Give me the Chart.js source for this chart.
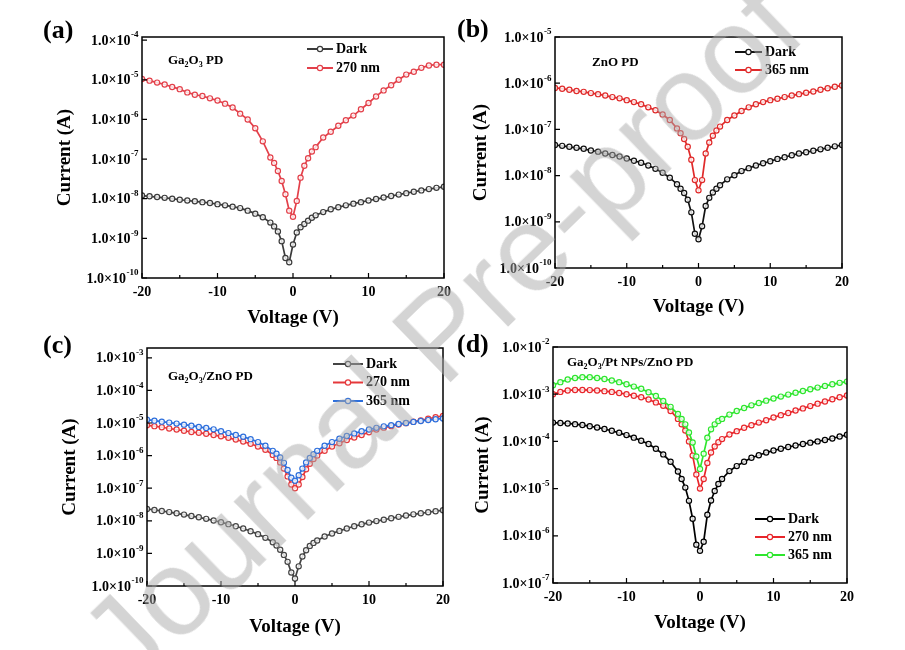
<!DOCTYPE html>
<html>
<head>
<meta charset="utf-8">
<script src="https://cdn.jsdelivr.net/npm/chart.js@4.4.0/dist/chart.umd.min.js"></script>
<style>
  body { margin: 0; background: #fff; width: 905px; height: 650px; overflow: hidden; position: relative; }
  canvas { position: absolute; }
  #wm {
    position: absolute; left: 441px; top: 333px;
    transform: translate(-50%, -50%) rotate(-44deg);
    font: 122px "Liberation Sans", Arial, sans-serif;
    color: rgba(170, 170, 170, 0.5);
    white-space: nowrap; pointer-events: none;
  }
</style>
</head>
<body>
<canvas id="chartA" width="430" height="330" style="left:30px;top:0px"></canvas>
<canvas id="chartB" width="450" height="330" style="left:455px;top:0px"></canvas>
<canvas id="chartC" width="430" height="320" style="left:30px;top:330px"></canvas>
<canvas id="chartD" width="450" height="320" style="left:455px;top:330px"></canvas>
<div id="wm">Journal Pre-proof</div>
<script>
// bias voltage (V), shared by all four panels
var voltage = [-20, -19, -18, -17, -16, -15, -14, -13, -12, -11, -10, -9, -8, -7, -6, -5, -4,
  -3, -2.5, -2, -1.5, -1, -0.5, 0, 0.5, 1, 1.5, 2, 2.5, 3,
  4, 5, 6, 7, 8, 9, 10, 11, 12, 13, 14, 15, 16, 17, 18, 19, 20];

// (a) Ga2O3 PD
var darkA = [1.2e-8, 1.15e-8, 1.1e-8, 1.05e-8, 1.0e-8, 9.4e-9, 9.0e-9, 8.6e-9, 8.2e-9, 7.8e-9, 7.3e-9, 6.8e-9, 6.3e-9, 5.8e-9, 5.0e-9, 4.2e-9, 3.4e-9,
  2.5e-9, 2.0e-9, 1.5e-9, 8.5e-10, 3.2e-10, 2.5e-10, 7e-10, 1.4e-9, 1.9e-9, 2.3e-9, 2.8e-9, 3.3e-9, 3.8e-9,
  4.6e-9, 5.4e-9, 6.1e-9, 6.8e-9, 7.5e-9, 8.2e-9, 9.0e-9, 9.8e-9, 1.07e-8, 1.17e-8, 1.27e-8, 1.38e-8, 1.5e-8, 1.62e-8, 1.75e-8, 1.88e-8, 2.0e-8];
var uv270A = [1.05e-5, 9.5e-6, 8.5e-6, 7.6e-6, 6.6e-6, 5.8e-6, 4.8e-6, 4.2e-6, 3.9e-6, 3.4e-6, 3.0e-6, 2.5e-6, 2.0e-6, 1.4e-6, 1.0e-6, 6.0e-7, 2.8e-7,
  1.1e-7, 8e-8, 5e-8, 2.8e-8, 1.3e-8, 5e-9, 3.5e-9, 8.8e-9, 3.4e-8, 6.8e-8, 1.05e-7, 1.55e-7, 2.0e-7,
  3.5e-7, 4.9e-7, 6.9e-7, 9.5e-7, 1.25e-6, 1.8e-6, 2.6e-6, 3.8e-6, 5.4e-6, 7.3e-6, 1.0e-5, 1.35e-5, 1.6e-5, 2.0e-5, 2.3e-5, 2.4e-5, 2.4e-5];

// (b) ZnO PD
var darkB = [4.6e-8, 4.4e-8, 4.2e-8, 4.0e-8, 3.8e-8, 3.5e-8, 3.3e-8, 3.0e-8, 2.8e-8, 2.6e-8, 2.35e-8, 2.1e-8, 1.9e-8, 1.65e-8, 1.4e-8, 1.15e-8, 9e-9,
  6.5e-9, 5.2e-9, 4.2e-9, 3.0e-9, 1.6e-9, 5.5e-10, 4.2e-10, 8e-10, 2.2e-9, 3.3e-9, 4.3e-9, 5.2e-9, 6.2e-9,
  8.3e-9, 1.02e-8, 1.25e-8, 1.45e-8, 1.65e-8, 1.85e-8, 2.05e-8, 2.3e-8, 2.5e-8, 2.75e-8, 3.0e-8, 3.2e-8, 3.45e-8, 3.7e-8, 4.0e-8, 4.3e-8, 4.6e-8];
var uv365B = [7.9e-7, 7.6e-7, 7.2e-7, 6.8e-7, 6.5e-7, 6.1e-7, 5.8e-7, 5.4e-7, 5.0e-7, 4.7e-7, 4.3e-7, 3.9e-7, 3.5e-7, 3.0e-7, 2.6e-7, 2.1e-7, 1.6e-7,
  1.05e-7, 8.3e-8, 6.2e-8, 4.2e-8, 2.2e-8, 8e-9, 4.8e-9, 8e-9, 3.0e-8, 5.2e-8, 7.3e-8, 9.5e-8, 1.15e-7,
  1.6e-7, 2.0e-7, 2.5e-7, 3.0e-7, 3.5e-7, 3.9e-7, 4.3e-7, 4.6e-7, 5.0e-7, 5.4e-7, 5.8e-7, 6.2e-7, 6.6e-7, 7.2e-7, 7.8e-7, 8.4e-7, 8.9e-7];

// (c) Ga2O3/ZnO PD
var darkC = [2.3e-8, 2.15e-8, 2.0e-8, 1.85e-8, 1.7e-8, 1.55e-8, 1.4e-8, 1.28e-8, 1.15e-8, 1.02e-8, 9e-9, 7.9e-9, 6.8e-9, 5.8e-9, 4.8e-9, 3.9e-9, 3.0e-9,
  2.2e-9, 1.75e-9, 1.3e-9, 9e-10, 5.5e-10, 2.6e-10, 1.7e-10, 4e-10, 8e-10, 1.25e-9, 1.7e-9, 2.1e-9, 2.5e-9,
  3.3e-9, 4.1e-9, 4.9e-9, 5.8e-9, 6.8e-9, 7.8e-9, 8.8e-9, 9.8e-9, 1.08e-8, 1.2e-8, 1.32e-8, 1.45e-8, 1.58e-8, 1.7e-8, 1.83e-8, 1.97e-8, 2.1e-8];
var uv270C = [8.5e-6, 8.0e-6, 7.4e-6, 6.8e-6, 6.3e-6, 5.8e-6, 5.3e-6, 5.0e-6, 4.7e-6, 4.3e-6, 3.9e-6, 3.5e-6, 3.1e-6, 2.7e-6, 2.3e-6, 1.9e-6, 1.5e-6,
  1.05e-6, 8.5e-7, 6.2e-7, 4e-7, 2.3e-7, 1.3e-7, 1.0e-7, 1.3e-7, 2.2e-7, 3.8e-7, 5.6e-7, 7.8e-7, 1.0e-6,
  1.4e-6, 1.9e-6, 2.4e-6, 3.0e-6, 3.6e-6, 4.3e-6, 5.2e-6, 6.3e-6, 7.2e-6, 8.0e-6, 9.0e-6, 9.9e-6, 1.1e-5, 1.2e-5, 1.35e-5, 1.5e-5, 1.65e-5];
var uv365C = [1.27e-5, 1.18e-5, 1.1e-5, 1.03e-5, 9.6e-6, 8.9e-6, 8.3e-6, 7.6e-6, 7.0e-6, 6.4e-6, 5.6e-6, 4.9e-6, 4.3e-6, 3.8e-6, 3.2e-6, 2.6e-6, 2.0e-6,
  1.4e-6, 1.15e-6, 8.8e-7, 6e-7, 3.6e-7, 2.1e-7, 1.7e-7, 2.5e-7, 4.0e-7, 6.2e-7, 8.5e-7, 1.1e-6, 1.4e-6,
  2.0e-6, 2.6e-6, 3.3e-6, 4.0e-6, 4.8e-6, 5.6e-6, 6.3e-6, 7.1e-6, 7.9e-6, 8.6e-6, 9.3e-6, 1.0e-5, 1.08e-5, 1.15e-5, 1.23e-5, 1.3e-5, 1.38e-5];

// (d) Ga2O3/Pt NPs/ZnO PD
var darkD = [2.5e-4, 2.45e-4, 2.4e-4, 2.32e-4, 2.22e-4, 2.1e-4, 1.97e-4, 1.83e-4, 1.68e-4, 1.52e-4, 1.36e-4, 1.2e-4, 1.03e-4, 8.8e-5, 7.0e-5, 5.3e-5, 3.7e-5,
  2.3e-5, 1.6e-5, 1.05e-5, 5.5e-6, 2.3e-6, 6.5e-7, 4.8e-7, 7.5e-7, 2.8e-6, 5.6e-6, 8.9e-6, 1.25e-5, 1.6e-5,
  2.35e-5, 3.0e-5, 3.7e-5, 4.5e-5, 5.1e-5, 5.8e-5, 6.4e-5, 7.0e-5, 7.6e-5, 8.2e-5, 8.8e-5, 9.4e-5, 1.0e-4, 1.07e-4, 1.15e-4, 1.27e-4, 1.38e-4];
var uv270D = [1.0e-3, 1.12e-3, 1.2e-3, 1.23e-3, 1.23e-3, 1.22e-3, 1.2e-3, 1.16e-3, 1.12e-3, 1.06e-3, 1.0e-3, 9.3e-4, 8.6e-4, 7.7e-4, 6.7e-4, 5.7e-4, 4.4e-4,
  3.0e-4, 2.3e-4, 1.7e-4, 1.0e-4, 5e-5, 2e-5, 1.0e-5, 1.6e-5, 3.5e-5, 5.8e-5, 7.8e-5, 9.6e-5, 1.12e-4,
  1.4e-4, 1.65e-4, 1.95e-4, 2.2e-4, 2.5e-4, 2.8e-4, 3.2e-4, 3.6e-4, 4.0e-4, 4.5e-4, 5.0e-4, 5.6e-4, 6.3e-4, 7.0e-4, 7.8e-4, 8.6e-4, 9.4e-4];
var uv365D = [1.55e-3, 1.8e-3, 2.05e-3, 2.2e-3, 2.3e-3, 2.3e-3, 2.2e-3, 2.1e-3, 1.95e-3, 1.8e-3, 1.62e-3, 1.45e-3, 1.3e-3, 1.1e-3, 9.2e-4, 7.2e-4, 5.4e-4,
  3.8e-4, 3.0e-4, 2.3e-4, 1.55e-4, 9.5e-5, 4.8e-5, 2.6e-5, 5.5e-5, 1.2e-4, 1.8e-4, 2.3e-4, 2.7e-4, 3.0e-4,
  3.7e-4, 4.4e-4, 5.1e-4, 5.8e-4, 6.5e-4, 7.3e-4, 8.1e-4, 8.9e-4, 9.8e-4, 1.07e-3, 1.17e-3, 1.27e-3, 1.38e-3, 1.5e-3, 1.62e-3, 1.74e-3, 1.85e-3];

// axis ticks
var xTickMarks = [-20, -15, -10, -5, 0, 5, 10, 15, 20];
var yTicksA = [1e-10, 1e-9, 1e-8, 1e-7, 1e-6, 1e-5, 1e-4];
var yTicksB = [1e-10, 1e-9, 1e-8, 1e-7, 1e-6, 1e-5];
var yTicksC = [1e-10, 1e-9, 1e-8, 1e-7, 1e-6, 1e-5, 1e-4, 1e-3];
var yTicksD = [1e-7, 1e-6, 1e-5, 1e-4, 1e-3, 1e-2];

var SERIF = '"Liberation Serif", "Times New Roman", serif';

// text with "_x" subscripts
function drawRich(ctx, text, x, y, size) {
  var i = 0;
  while (i < text.length) {
    var c = text[i];
    if (c === '_' && i + 1 < text.length) {
      ctx.font = 'bold ' + Math.round(size * 0.65) + 'px ' + SERIF;
      ctx.fillText(text[i + 1], x, y + size * 0.28);
      x += ctx.measureText(text[i + 1]).width;
      i += 2;
    } else {
      ctx.font = 'bold ' + size + 'px ' + SERIF;
      ctx.fillText(c, x, y);
      x += ctx.measureText(c).width;
      i += 1;
    }
  }
}

var panelDecor = {
  id: 'panelDecor',
  afterDraw: function (chart, args, opts) {
    var ctx = chart.ctx, a = chart.chartArea;
    var xs = chart.scales.x, ys = chart.scales.y;
    ctx.save();
    // box
    ctx.strokeStyle = '#000';
    ctx.lineWidth = 1.5;
    ctx.strokeRect(a.left, a.top, a.right - a.left, a.bottom - a.top);
    // inward ticks on bottom and left
    ctx.lineWidth = 1.2;
    ctx.beginPath();
    xTickMarks.forEach(function (v) {
      var px = xs.getPixelForValue(v);
      var len = (v % 10 === 0) ? 5 : 3;
      ctx.moveTo(px, a.bottom);
      ctx.lineTo(px, a.bottom - len);
    });
    ys.ticks.forEach(function (t) {
      var py = ys.getPixelForValue(t.value);
      ctx.moveTo(a.left, py);
      ctx.lineTo(a.left + 5, py);
    });
    ctx.stroke();

    ctx.fillStyle = '#000';
    ctx.textBaseline = 'middle';
    ctx.textAlign = 'left';
    // y tick labels 1.0x10^n with a real superscript
    ys.ticks.forEach(function (t) {
      var py = ys.getPixelForValue(t.value);
      var base = '1.0\u00D710';
      var ex = String(Math.round(Math.log10(t.value)));
      ctx.font = 'bold 9px ' + SERIF;
      var we = ctx.measureText(ex).width;
      ctx.font = 'bold 14px ' + SERIF;
      var wb = ctx.measureText(base).width;
      var x0 = a.left - 4 - we - wb;
      ctx.fillText(base, x0, py + 1);
      ctx.font = 'bold 9px ' + SERIF;
      ctx.fillText(ex, x0 + wb + 0.5, py - 5);
    });
    // panel tag
    ctx.font = 'bold 26px ' + SERIF;
    ctx.fillText(opts.tag, opts.tagX, opts.tagY);
    // device note
    drawRich(ctx, opts.note, a.left + opts.noteX, a.top + opts.noteY, 13);
    // legend
    chart.data.datasets.forEach(function (ds, i) {
      var y = a.top + opts.legY + i * opts.legGap;
      var x0 = a.left + opts.legX;
      ctx.strokeStyle = ds.borderColor;
      ctx.lineWidth = 2;
      ctx.beginPath();
      ctx.moveTo(x0, y);
      ctx.lineTo(x0 + opts.legLen, y);
      ctx.stroke();
      ctx.lineWidth = 1.2;
      ctx.fillStyle = '#fff';
      ctx.beginPath();
      ctx.arc(x0 + opts.legLen / 2, y, 2.6, 0, Math.PI * 2);
      ctx.fill();
      ctx.stroke();
      ctx.fillStyle = '#000';
      ctx.font = 'bold 14px ' + SERIF;
      ctx.fillText(ds.label, x0 + opts.legLen + 3, y);
    });
    ctx.restore();
  }
};

function makePanel(id, sets, yMin, yMax, yTicks, lay, decor) {
  var datasets = sets.map(function (s, i) {
    return {
      label: s.label,
      data: voltage.map(function (v, j) { return {x: v, y: s.values[j]}; }),
      borderColor: s.color,
      backgroundColor: '#fff',
      borderWidth: 1.7,
      pointRadius: 2.6,
      pointBorderWidth: 1.2,
      pointBackgroundColor: 'rgba(255,255,255,0.8)',
      pointBorderColor: s.color,
      order: sets.length - i
    };
  });
  var tickFont = {family: SERIF, weight: 'bold', size: 14};
  var titleFont = {family: SERIF, weight: 'bold', size: 19};
  return new Chart(document.getElementById(id), {
    type: 'line',
    data: {datasets: datasets},
    options: {
      responsive: false,
      animation: false,
      devicePixelRatio: 1,
      layout: {padding: {left: 0, top: lay.top, right: lay.right, bottom: 0}},
      plugins: {legend: {display: false}, tooltip: {enabled: false}, panelDecor: decor},
      scales: {
        x: {
          type: 'linear', min: -20, max: 20,
          grid: {display: false, drawTicks: false}, border: {display: false},
          ticks: {stepSize: 10, padding: 6, color: '#000', font: tickFont},
          title: {display: true, text: 'Voltage (V)', color: '#000', font: titleFont,
            padding: {top: 0, bottom: lay.xTitlePad}},
          afterFit: function (s) { s.height = lay.xh; }
        },
        y: {
          type: 'logarithmic', min: yMin, max: yMax,
          grid: {display: false, drawTicks: false}, border: {display: false},
          afterBuildTicks: function (s) { s.ticks = yTicks.map(function (v) { return {value: v}; }); },
          ticks: {display: false},
          title: {display: true, text: 'Current (A)', color: '#000', font: titleFont,
            padding: {top: lay.yTitlePad, bottom: 0}},
          afterFit: function (s) { s.width = lay.yw; }
        }
      }
    },
    plugins: [panelDecor]
  });
}

makePanel('chartA', [
  {label: 'Dark', values: darkA, color: '#3b3b3b'},
  {label: '270 nm', values: uv270A, color: '#e3404a'}
], 1e-10, 1.2e-4, yTicksA,
  {yw: 112, xh: 52, top: 37, right: 16, yTitlePad: 24, xTitlePad: 1},
  {tag: '(a)', tagX: 13, tagY: 31, note: 'Ga_2O_3 PD', noteX: 26, noteY: 24,
    legX: 165, legY: 12, legGap: 19, legLen: 26});

makePanel('chartB', [
  {label: 'Dark', values: darkB, color: '#111111'},
  {label: '365 nm', values: uv365B, color: '#e02a2a'}
], 1e-10, 1e-5, yTicksB,
  {yw: 100, xh: 62, top: 37, right: 63, yTitlePad: 15, xTitlePad: 12},
  {tag: '(b)', tagX: 2, tagY: 30, note: 'ZnO PD', noteX: 37, noteY: 26,
    legX: 180, legY: 15, legGap: 18, legLen: 27});

makePanel('chartC', [
  {label: 'Dark', values: darkC, color: '#444444'},
  {label: '270 nm', values: uv270C, color: '#e5383b'},
  {label: '365 nm', values: uv365C, color: '#2d6fdc'}
], 1e-10, 2e-3, yTicksC,
  {yw: 117, xh: 64, top: 18, right: 17, yTitlePad: 29, xTitlePad: 12},
  {tag: '(c)', tagX: 13, tagY: 16, note: 'Ga_2O_3/ZnO PD', noteX: 21, noteY: 29,
    legX: 186, legY: 16, legGap: 18.5, legLen: 30});

makePanel('chartD', [
  {label: 'Dark', values: darkD, color: '#000000'},
  {label: '270 nm', values: uv270D, color: '#e8262b'},
  {label: '365 nm', values: uv365D, color: '#2ee62e'}
], 1e-7, 1e-2, yTicksD,
  {yw: 98, xh: 67, top: 17, right: 58, yTitlePad: 17, xTitlePad: 16},
  {tag: '(d)', tagX: 2, tagY: 15, note: 'Ga_2O_3/Pt NPs/ZnO PD', noteX: 14, noteY: 16,
    legX: 202, legY: 172, legGap: 18, legLen: 30});
</script>
</body>
</html>
